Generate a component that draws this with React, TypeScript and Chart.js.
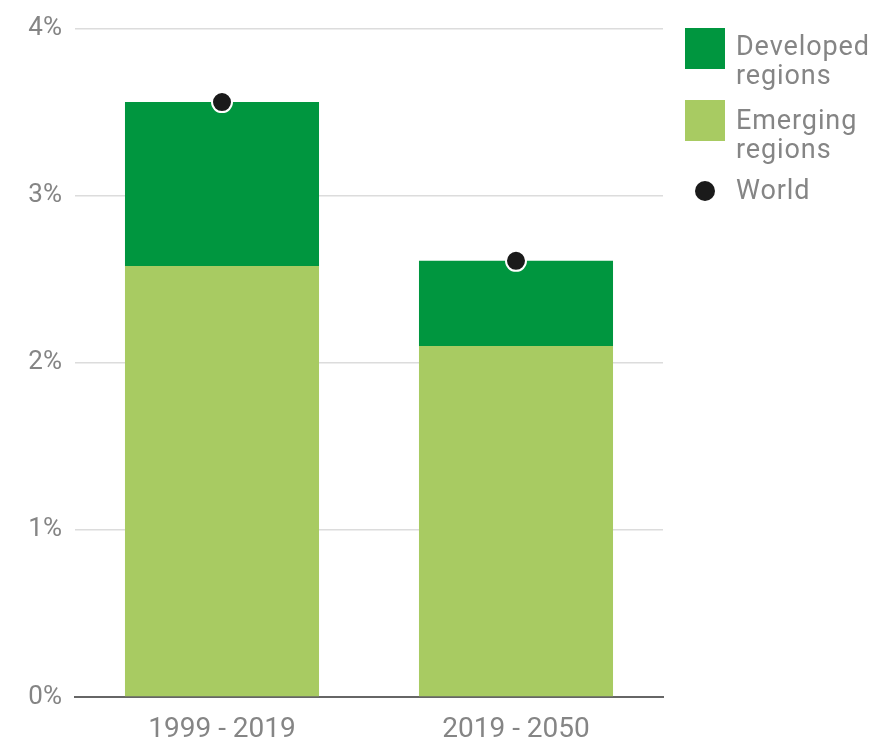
import React, { useEffect, useRef } from "react";
import { Chart, registerables } from "chart.js";

Chart.register(...registerables);

const categories = ["1999 - 2019", "2019 - 2050"];
const emerging = [2.58, 2.1];
const developed = [0.98, 0.51];
const world = [3.56, 2.61];
const yTicks = [0, 1, 2, 3, 4];

const DARK = "#00963f";
const LIGHT = "#a8cb62";
const TEXT = "#858585";
const FONT = "Roboto, 'Liberation Sans', sans-serif";

export default function App() {
  const ref = useRef<HTMLCanvasElement | null>(null);
  useEffect(() => {
    if (!ref.current) return;
    const chart = new Chart(ref.current, {
      type: "bar",
      data: {
        labels: categories,
        datasets: [
          {
            type: "bar",
            label: "Emerging regions",
            data: emerging,
            backgroundColor: LIGHT,
            stack: "a",
            barPercentage: 0.66,
            categoryPercentage: 1,
            order: 2,
          },
          {
            type: "bar",
            label: "Developed regions",
            data: developed,
            backgroundColor: DARK,
            stack: "a",
            barPercentage: 0.66,
            categoryPercentage: 1,
            order: 2,
          },
          {
            type: "line",
            label: "World",
            data: world,
            stack: "w",
            showLine: false,
            pointRadius: 10,
            pointBackgroundColor: "#1a1a1a",
            pointBorderColor: "#ffffff",
            pointBorderWidth: 2,
            order: 0,
          } as any,
        ],
      },
      options: {
        animation: false,
        responsive: false,
        maintainAspectRatio: false,
        layout: { padding: { left: 0, right: 218, top: 28, bottom: 0 } },
        plugins: { legend: { display: false }, tooltip: { enabled: false } },
        scales: {
          x: {
            stacked: true,
            grid: { display: false, drawTicks: false },
            border: { display: true, color: "#666666", width: 2 },
            afterFit: (scale: any) => {
              scale.height = 46;
            },
            ticks: {
              color: TEXT,
              font: { family: FONT, size: 28 },
              padding: 16,
            },
          },
          y: {
            stacked: true,
            min: 0,
            max: 4,
            afterBuildTicks: (scale: any) => {
              scale.ticks = yTicks.map((v) => ({ value: v }));
            },
            afterFit: (scale: any) => {
              scale.width = 75;
            },
            grid: {
              color: (ctx: any) => (ctx.tick && ctx.tick.value === 0 ? "rgba(0,0,0,0)" : "#dcdcdc"),
              lineWidth: 1.5,
              drawTicks: false,
            },
            border: { display: false },
            ticks: {
              color: TEXT,
              font: { family: FONT, size: 26 },
              padding: 13,
              callback: (v: any) => v + "%",
            },
          },
        },
      },
    });
    return () => chart.destroy();
  }, []);

  const legendText: React.CSSProperties = {
    fontFamily: FONT,
    fontSize: 27,
    color: TEXT,
    lineHeight: "29px",
    letterSpacing: "0.9px",
  };

  return (
    <div style={{ position: "absolute", left: 0, top: 0, width: 881, height: 743, background: "#fff" }}>
      <canvas ref={ref} width={881} height={743} style={{ width: 881, height: 743, display: "block" }} />
      <div style={{ position: "absolute", left: 685, top: 28 }}>
        <div style={{ display: "flex", alignItems: "flex-start" }}>
          <div style={{ width: 40, height: 41, background: DARK }} />
          <div style={{ ...legendText, marginLeft: 11, marginTop: 4 }}>Developed<br />regions</div>
        </div>
        <div style={{ display: "flex", alignItems: "flex-start", marginTop: 10 }}>
          <div style={{ width: 40, height: 41, background: LIGHT }} />
          <div style={{ ...legendText, marginLeft: 11, marginTop: 6 }}>Emerging<br />regions</div>
        </div>
        <div style={{ display: "flex", alignItems: "center", marginTop: 12 }}>
          <div style={{ width: 40, display: "flex", justifyContent: "center" }}>
            <div style={{ width: 20, height: 20, borderRadius: 10, background: "#1a1a1a" }} />
          </div>
          <div style={{ ...legendText, marginLeft: 11 }}>World</div>
        </div>
      </div>
    </div>
  );
}
